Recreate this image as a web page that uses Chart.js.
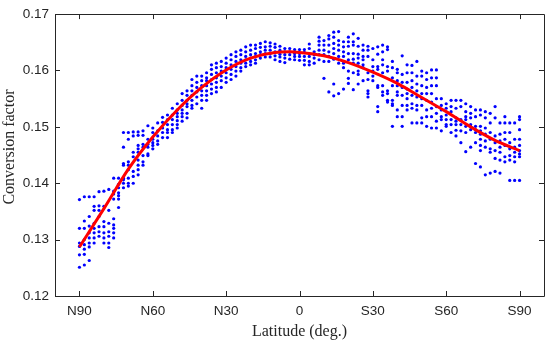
<!DOCTYPE html>
<html>
<head>
<meta charset="utf-8">
<script src="https://cdn.jsdelivr.net/npm/chart.js@4.4.1/dist/chart.umd.min.js"></script>
<style>
    body { margin: 0; background: #fff; }
    #wrap { width: 550px; height: 343px; }
</style>
</head>
<body>
<div id="wrap"><canvas id="convChart"></canvas></div>
<script>
// latitude columns: negative = north, positive = south
const colLat = [
    -90, -88, -86, -84, -82, -80, -78, -76, -74, -72, -70, -68, -66, -64, -62, -60,
    -58, -56, -54, -52, -50, -48, -46, -44, -42, -40, -38, -36, -34, -32, -30, -28,
    -26, -24, -22, -20, -18, -16, -14, -12, -10, -8, -6, -4, -2, 0, 2, 4, 6, 8, 10,
    12, 14, 16, 18, 20, 22, 24, 26, 28, 30, 32, 34, 36, 38, 40, 42, 44, 46, 48, 50,
    52, 54, 56, 58, 60, 62, 64, 66, 68, 70, 72, 74, 76, 78, 80, 82, 84, 86, 88, 90
];

// observed conversion factors per latitude column (same order as colLat)
const colFactor = [
    [0.1371, 0.1320, 0.1294, 0.1288, 0.1273, 0.1251],
    [0.1376, 0.1333, 0.1320, 0.1300, 0.1291, 0.1283, 0.1274, 0.1255],
    [0.1376, 0.1341, 0.1324, 0.1312, 0.1303, 0.1294, 0.1287, 0.1263],
    [0.1376, 0.1359, 0.1352, 0.1329, 0.1320, 0.1312, 0.1303, 0.1294],
    [0.1385, 0.1360, 0.1352, 0.1341, 0.1323, 0.1314, 0.1306],
    [0.1386, 0.1359, 0.1332, 0.1323, 0.1312, 0.1303, 0.1294],
    [0.1389, 0.1352, 0.1329, 0.1314, 0.1306, 0.1294, 0.1286],
    [0.1409, 0.1386, 0.1381, 0.1372, 0.1337, 0.1326, 0.1320, 0.1312, 0.1303],
    [0.1409, 0.1398, 0.1392, 0.1383, 0.1378, 0.1372, 0.1357],
    [0.1490, 0.1464, 0.1435, 0.1432, 0.1409, 0.1406, 0.1400, 0.1392],
    [0.1490, 0.1478, 0.1438, 0.1432, 0.1424, 0.1409, 0.1400, 0.1395],
    [0.1491, 0.1484, 0.1455, 0.1447, 0.1421, 0.1412, 0.1400],
    [0.1491, 0.1485, 0.1467, 0.1461, 0.1455, 0.1441, 0.1432, 0.1424, 0.1415],
    [0.1493, 0.1485, 0.1469, 0.1464, 0.1449, 0.1438, 0.1432],
    [0.1502, 0.1478, 0.1469, 0.1464, 0.1452, 0.1449],
    [0.1498, 0.1490, 0.1478, 0.1472, 0.1467, 0.1461],
    [0.1507, 0.1493, 0.1484, 0.1475, 0.1469],
    [0.1517, 0.1508, 0.1498, 0.1490, 0.1481],
    [0.1521, 0.1513, 0.1504, 0.1495, 0.1490, 0.1481],
    [0.1533, 0.1521, 0.1513, 0.1504, 0.1495, 0.1490],
    [0.1541, 0.1530, 0.1524, 0.1518, 0.1511, 0.1504, 0.1498],
    [0.1559, 0.1547, 0.1538, 0.1530, 0.1524, 0.1518, 0.1510],
    [0.1564, 0.1556, 0.1547, 0.1541, 0.1536, 0.1524, 0.1516],
    [0.1584, 0.1573, 0.1564, 0.1556, 0.1547, 0.1538, 0.1533],
    [0.1590, 0.1579, 0.1570, 0.1562, 0.1553, 0.1541],
    [0.1590, 0.1582, 0.1573, 0.1564, 0.1556, 0.1547, 0.1533],
    [0.1596, 0.1587, 0.1582, 0.1573, 0.1564, 0.1556, 0.1547],
    [0.1610, 0.1602, 0.1593, 0.1584, 0.1576, 0.1567, 0.1559],
    [0.1613, 0.1605, 0.1596, 0.1587, 0.1579, 0.1570, 0.1562],
    [0.1616, 0.1607, 0.1599, 0.1590, 0.1582, 0.1570],
    [0.1622, 0.1613, 0.1605, 0.1596, 0.1587, 0.1579],
    [0.1628, 0.1619, 0.1610, 0.1602, 0.1593, 0.1584],
    [0.1633, 0.1625, 0.1616, 0.1607, 0.1599, 0.1590],
    [0.1636, 0.1628, 0.1619, 0.1613, 0.1605, 0.1599],
    [0.1642, 0.1633, 0.1625, 0.1619, 0.1613, 0.1607],
    [0.1645, 0.1636, 0.1628, 0.1622, 0.1616, 0.1610],
    [0.1645, 0.1639, 0.1630, 0.1625, 0.1619, 0.1613],
    [0.1648, 0.1641, 0.1633, 0.1628, 0.1622],
    [0.1651, 0.1642, 0.1636, 0.1630, 0.1624],
    [0.1649, 0.1643, 0.1636, 0.1630, 0.1624],
    [0.1647, 0.1641, 0.1633, 0.1626, 0.1619],
    [0.1643, 0.1636, 0.1629, 0.1624, 0.1616],
    [0.1639, 0.1633, 0.1628, 0.1622, 0.1614],
    [0.1639, 0.1633, 0.1628, 0.1620],
    [0.1637, 0.1630, 0.1625, 0.1619],
    [0.1637, 0.1630, 0.1625, 0.1618],
    [0.1637, 0.1632, 0.1625, 0.1618, 0.1610],
    [0.1647, 0.1639, 0.1630, 0.1625, 0.1616, 0.1610],
    [0.1633, 0.1628, 0.1622, 0.1613],
    [0.1659, 0.1652, 0.1645, 0.1636, 0.1628, 0.1619],
    [0.1653, 0.1645, 0.1636, 0.1628, 0.1616, 0.1586],
    [0.1662, 0.1656, 0.1645, 0.1633, 0.1625, 0.1616, 0.1562],
    [0.1668, 0.1659, 0.1648, 0.1639, 0.1630, 0.1620, 0.1576, 0.1555],
    [0.1669, 0.1653, 0.1645, 0.1636, 0.1625, 0.1613, 0.1559],
    [0.1651, 0.1642, 0.1633, 0.1625, 0.1613, 0.1605, 0.1567],
    [0.1659, 0.1651, 0.1643, 0.1630, 0.1619, 0.1599, 0.1586, 0.1577],
    [0.1665, 0.1651, 0.1645, 0.1630, 0.1620, 0.1613, 0.1596, 0.1566],
    [0.1657, 0.1643, 0.1629, 0.1622, 0.1613, 0.1599, 0.1593, 0.1576],
    [0.1645, 0.1636, 0.1625, 0.1619, 0.1610, 0.1605, 0.1582],
    [0.1643, 0.1636, 0.1625, 0.1596, 0.1584, 0.1564, 0.1559, 0.1553],
    [0.1639, 0.1619, 0.1607, 0.1599, 0.1590, 0.1582],
    [0.1642, 0.1629, 0.1607, 0.1602, 0.1573, 0.1570, 0.1536, 0.1527],
    [0.1645, 0.1633, 0.1619, 0.1610, 0.1596, 0.1573, 0.1562, 0.1556],
    [0.1642, 0.1637, 0.1607, 0.1599, 0.1564, 0.1559, 0.1547, 0.1544],
    [0.1616, 0.1605, 0.1587, 0.1573, 0.1547, 0.1541, 0.1538, 0.1501],
    [0.1602, 0.1596, 0.1582, 0.1573, 0.1562, 0.1556, 0.1530, 0.1518],
    [0.1626, 0.1593, 0.1579, 0.1570, 0.1556, 0.1538, 0.1518, 0.1501],
    [0.1610, 0.1596, 0.1579, 0.1567, 0.1559, 0.1550, 0.1538, 0.1530],
    [0.1609, 0.1596, 0.1582, 0.1570, 0.1556, 0.1541, 0.1533, 0.1507],
    [0.1616, 0.1590, 0.1576, 0.1564, 0.1553, 0.1538, 0.1530, 0.1507],
    [0.1599, 0.1590, 0.1573, 0.1559, 0.1550, 0.1538, 0.1516, 0.1507],
    [0.1596, 0.1584, 0.1570, 0.1559, 0.1547, 0.1530, 0.1518, 0.1501],
    [0.1601, 0.1587, 0.1573, 0.1559, 0.1544, 0.1533, 0.1518, 0.1498],
    [0.1601, 0.1587, 0.1573, 0.1550, 0.1536, 0.1524, 0.1510, 0.1498],
    [0.1550, 0.1538, 0.1530, 0.1518, 0.1513, 0.1493],
    [0.1541, 0.1533, 0.1521, 0.1513, 0.1504, 0.1501],
    [0.1547, 0.1536, 0.1527, 0.1513, 0.1504, 0.1490],
    [0.1547, 0.1533, 0.1516, 0.1510, 0.1504, 0.1494, 0.1484],
    [0.1547, 0.1536, 0.1513, 0.1504, 0.1493, 0.1472],
    [0.1541, 0.1527, 0.1518, 0.1513, 0.1501, 0.1490, 0.1456],
    [0.1536, 0.1524, 0.1516, 0.1504, 0.1501, 0.1495, 0.1464],
    [0.1530, 0.1518, 0.1501, 0.1495, 0.1490, 0.1472, 0.1435],
    [0.1530, 0.1521, 0.1501, 0.1493, 0.1487, 0.1478, 0.1467, 0.1458, 0.1429],
    [0.1527, 0.1516, 0.1498, 0.1487, 0.1475, 0.1464, 0.1415],
    [0.1524, 0.1507, 0.1490, 0.1478, 0.1461, 0.1455, 0.1418],
    [0.1536, 0.1516, 0.1484, 0.1472, 0.1458, 0.1444, 0.1421],
    [0.1507, 0.1487, 0.1475, 0.1464, 0.1455, 0.1441, 0.1418],
    [0.1518, 0.1507, 0.1490, 0.1478, 0.1467, 0.1447, 0.1438],
    [0.1507, 0.1490, 0.1472, 0.1461, 0.1449, 0.1441, 0.1405],
    [0.1507, 0.1478, 0.1464, 0.1455, 0.1447, 0.1438, 0.1405],
    [0.1518, 0.1513, 0.1495, 0.1478, 0.1467, 0.1458, 0.1452, 0.1447, 0.1405]
];

// fitted curve (red)
const fitLat = [-90, -80, -70, -60, -50, -40, -30, -20, -10, -4, 0, 10, 20, 30, 40, 50, 60, 70, 80, 90];
const fitFactor = [0.1287, 0.1355, 0.1425, 0.1482, 0.1530, 0.1570, 0.1601, 0.1622, 0.1632, 0.1633,
                   0.1632, 0.1626, 0.1614, 0.1597, 0.1577, 0.1552, 0.1527, 0.1500, 0.1476, 0.1458];

const xTicks = [-90, -60, -30, 0, 30, 60, 90];
const xTickLabels = ['N90', 'N60', 'N30', '0', 'S30', 'S60', 'S90'];
const yTicks = [0.12, 0.13, 0.14, 0.15, 0.16, 0.17];

const axisColor = '#262626';

// box around the plot with inward ticks on all four sides
const boxPlugin = {
    id: 'boxTicks',
    afterDraw(chart) {
        const { ctx, chartArea: a, scales } = chart;
        const len = 5;
        ctx.save();
        ctx.strokeStyle = axisColor;
        ctx.lineWidth = 1;
        ctx.beginPath();
        ctx.rect(Math.round(a.left) + 0.5, Math.round(a.top) + 0.5,
                 Math.round(a.right - a.left), Math.round(a.bottom - a.top));
        scales.x.ticks.forEach(t => {
            const px = Math.round(scales.x.getPixelForValue(t.value)) + 0.5;
            ctx.moveTo(px, a.bottom); ctx.lineTo(px, a.bottom - len);
            ctx.moveTo(px, a.top); ctx.lineTo(px, a.top + len);
        });
        scales.y.ticks.forEach(t => {
            const py = Math.round(scales.y.getPixelForValue(t.value)) + 0.5;
            ctx.moveTo(a.left, py); ctx.lineTo(a.left + len, py);
            ctx.moveTo(a.right, py); ctx.lineTo(a.right - len, py);
        });
        ctx.stroke();
        ctx.restore();
    }
};

function buildPoints() {
    const pts = [];
    colLat.forEach((lat, i) => {
        colFactor[i].forEach(v => pts.push({ x: lat, y: v }));
    });
    return pts;
}

document.addEventListener('DOMContentLoaded', function() {
    const ctx = document.getElementById('convChart').getContext('2d');
    new Chart(ctx, {
        type: 'scatter',
        data: {
            datasets: [
                {
                    type: 'line',
                    label: 'Fit',
                    data: fitLat.map((x, i) => ({ x: x, y: fitFactor[i] })),
                    borderColor: '#ff0000',
                    borderWidth: 3,
                    pointRadius: 0,
                    cubicInterpolationMode: 'monotone',
                    fill: false,
                    order: 0
                },
                {
                    label: 'Observed',
                    data: buildPoints(),
                    backgroundColor: '#0000ff',
                    borderWidth: 0,
                    pointRadius: 1.6,
                    order: 1
                }
            ]
        },
        options: {
            responsive: true,
            maintainAspectRatio: false,
            animation: false,
            layout: { padding: { top: 8, right: 6, left: 0, bottom: 0 } },
            plugins: {
                legend: { display: false },
                tooltip: { enabled: false }
            },
            scales: {
                x: {
                    type: 'linear',
                    min: -100,
                    max: 100,
                    grid: { display: false, drawTicks: false },
                    border: { display: false },
                    afterBuildTicks: scale => { scale.ticks = xTicks.map(v => ({ value: v })); },
                    afterFit: scale => { scale.height = 47; },
                    ticks: {
                        padding: 7,
                        color: axisColor,
                        font: { family: 'Liberation Sans', size: 13.5 },
                        maxRotation: 0,
                        callback: function(value) {
                            const i = xTicks.indexOf(value);
                            return i >= 0 ? xTickLabels[i] : '';
                        }
                    },
                    title: {
                        display: true,
                        text: 'Latitude (deg.)',
                        color: axisColor,
                        font: { family: 'Liberation Serif', size: 16 },
                        padding: { top: 0, bottom: 2 }
                    }
                },
                y: {
                    type: 'linear',
                    min: 0.12,
                    max: 0.17,
                    grid: { display: false, drawTicks: false },
                    border: { display: false },
                    afterBuildTicks: scale => { scale.ticks = yTicks.map(v => ({ value: v })); },
                    afterFit: scale => { scale.width = 55; },
                    ticks: {
                        padding: 6,
                        color: axisColor,
                        font: { family: 'Liberation Sans', size: 13.5 },
                        callback: value => value.toFixed(2)
                    },
                    title: {
                        display: true,
                        // leading spaces nudge the label a little above the axis centre, as in the source
                        text: '    Conversion factor',
                        color: axisColor,
                        font: { family: 'Liberation Serif', size: 16 },
                        padding: { top: 0, bottom: 0 }
                    }
                }
            }
        },
        plugins: [boxPlugin]
    });
});
</script>
</body>
</html>
